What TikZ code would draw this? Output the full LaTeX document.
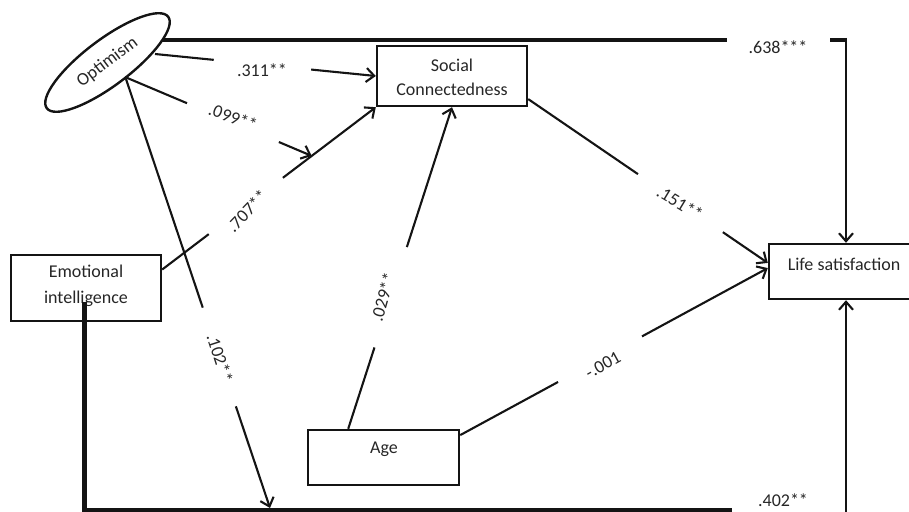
\documentclass[tikz,border=0pt]{standalone}
\usepackage{fontspec}
\setmainfont{Carlito}
\usetikzlibrary{shapes.geometric,arrows.meta,calc}
\begin{document}
\begin{tikzpicture}[x=1pt,y=-1pt,
  box/.style={draw=black!92, line width=2.4pt, inner sep=0pt},
  txt/.style={font=\fontsize{18}{26}\selectfont, text=black!85, inner sep=0pt, align=center},
  lbl/.style={font=\fontsize{18}{24}\selectfont, text=black!85, inner sep=0pt},
  conn/.style={line width=2.1pt, draw=black!92},
  arr/.style={conn, -{Straight Barb[length=8pt,width=14pt]}},
  heavy/.style={line width=4.6pt, draw=black!92},
]
\useasboundingbox (0,0) rectangle (909,511);
\clip (0,0) rectangle (909,511);

% nodes
\node[ellipse, draw=black!92, line width=2.4pt, rotate=37, minimum width=152pt, minimum height=46pt, inner sep=0pt,
      font=\fontsize{18}{24}\selectfont, text=black!85] (opt) at (107.5,62.5) {Optimism};
\node[box, minimum width=150pt, minimum height=60pt] (soc) at (452,76) {};
\node[box, minimum width=150pt, minimum height=66pt] (ei) at (86,288) {};
\node[box, minimum width=151pt, minimum height=55pt] (age) at (383.5,457.5) {};
\node[box, minimum width=161pt, minimum height=55pt] (life) at (849.5,271.5) {};

\node[txt] (soct) at (452,77) {Social\\[-2pt]Connectedness};
\node[txt] (eit) at (86,286) {Emotional\\intelligence};
\node[txt] (aget) at (384,449) {Age};
\node[txt] (lifet) at (844,264) {Life satisfaction};

% coordinates
\coordinate (o311) at (155,54);
\coordinate (o099) at (125,77);
\coordinate (o102) at (126,79);
\coordinate (b102) at (270,508);
\coordinate (e707) at ($(ei.north east)!0.23!(ei.south east)$);
\coordinate (m099) at ($(e707)!0.70!(soc.south west)$);
\coordinate (a029) at ($(age.north west)!0.27!(age.north east)$);
\coordinate (s151) at ($(soc.north east)!0.87!(soc.south east)$);
\coordinate (l151) at ($(life.north west)!0.35!(life.south west)$);
\coordinate (a001) at ($(age.north east)!0.11!(age.south east)$);
\coordinate (l001) at ($(life.north west)!0.44!(life.south west)$);
\coordinate (t638) at (162,40);
\coordinate (g638) at (727,40);
\coordinate (h638) at (830,40);
\coordinate (r638) at (846,40);
\coordinate (e402) at (84.5,302);
\coordinate (c402) at (84.5,510.5);
\coordinate (g402) at (732,510.5);
\coordinate (r402) at (846,515);

% .311
\draw[conn] (o311) -- ($(o311)!0.266!(soc.west)$);
\draw[arr] ($(o311)!0.707!(soc.west)$) -- (soc.west);
\node[lbl] (l311) at (262,70) {.311**};

% .099
\draw[conn] (o099) -- ($(o099)!0.332!(m099)$);
\draw[arr] ($(o099)!0.824!(m099)$) -- (m099);
\node[lbl, rotate=-20] (l099) at (233,117) {.099**};

% .102
\draw[conn] (o102) -- ($(o102)!0.533!(b102)$);
\draw[arr] ($(o102)!0.763!(b102)$) -- (b102);
\node[lbl, rotate=-72] (l102) at (220,358) {.102**};

% .707
\draw[conn] (e707) -- ($(e707)!0.218!(soc.south west)$);
\draw[arr] ($(e707)!0.565!(soc.south west)$) -- (soc.south west);
\node[lbl, rotate=46] (l707) at (247,211) {.707**};

% .029
\draw[conn] (a029) -- ($(a029)!0.253!(soc.south)$);
\draw[arr] ($(a029)!0.565!(soc.south)$) -- (soc.south);
\node[lbl, rotate=74] (l029) at (383,297) {.029**};

% .151
\draw[conn] (s151) -- ($(s151)!0.458!(l151)$);
\draw[arr] ($(s151)!0.8125!(l151)$) -- (l151);
\node[lbl, rotate=-31] (l151t) at (680,203) {.151**};

% -.001
\draw[conn] (a001) -- ($(a001)!0.318!(l001)$);
\draw[arr] ($(a001)!0.591!(l001)$) -- (l001);
\node[lbl, rotate=29] (l001t) at (603,365) {-.001};

% .638
\draw[heavy] (t638) -- (g638);
\draw[heavy] (h638) -- ($(r638)+(1,0)$);
\draw[arr] ($(r638)+(0,-2)$) -- (r638 |- life.north);
\node[lbl] (l638) at (778,47) {.638***};

% .402
\draw[heavy] (e402) -- (c402) -- (g402);
\draw[arr] (r402) -- (r402 |- life.south);
\node[lbl] (l402) at (783,500) {.402**};
\end{tikzpicture}
\end{document}
